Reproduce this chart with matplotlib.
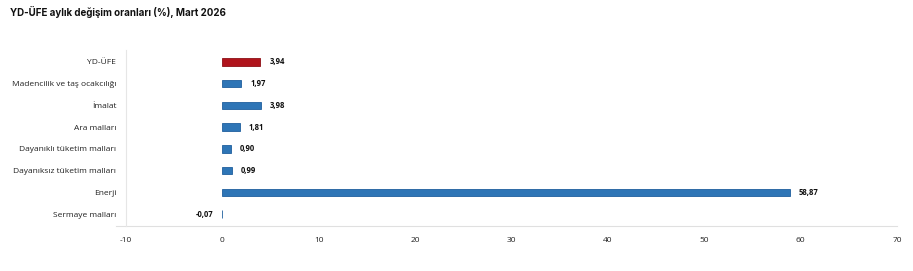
import matplotlib.pyplot as plt

plt.rcParams['font.family'] = ['Open Sans', 'DejaVu Sans']

categories = ["YD-ÜFE", "Madencilik ve taş ocakcılığı", "İmalat", "Ara malları",
              "Dayanıklı tüketim malları", "Dayanıksız tüketim malları",
              "Enerji", "Sermaye malları"]
values = [3.94, 1.97, 3.98, 1.81, 0.90, 0.99, 58.87, -0.07]
value_labels = ["3,94", "1,97", "3,98", "1,81", "0,90", "0,99", "58,87", "-0,07"]
xticks = [-10, 0, 10, 20, 30, 40, 50, 60, 70]

fig = plt.figure(figsize=(9.13, 2.71), dpi=100)
ax = fig.add_axes([126 / 913, 1 - 226 / 271, (897 - 126) / 913, 176 / 271])

colors = ["#B0141C"] + ["#2E75B6"] * (len(values) - 1)
edges = ["#8E1016"] + ["#1F5F9E"] * (len(values) - 1)
ypos = list(range(len(categories)))
ax.barh(ypos, values, height=0.34, color=colors, edgecolor=edges, linewidth=0.6)

for y, v, lab in zip(ypos, values, value_labels):
    if v >= 0:
        ax.annotate(lab, (v, y), xytext=(6.5, 0), textcoords="offset points",
                    ha="left", va="center", fontsize=5.5, fontweight="bold", color="#111111")
    else:
        ax.annotate(lab, (v, y), xytext=(-6, 0), textcoords="offset points",
                    ha="right", va="center", fontsize=5.5, fontweight="bold", color="#111111")

ax.set_xlim(-10, 70)
ax.set_ylim(7.55, -0.55)
ax.set_xticks(xticks)
ax.set_xticklabels([str(t) for t in xticks], fontsize=6, color="#222222")
ax.set_yticks(ypos)
ax.set_yticklabels(categories, fontsize=6, color="#222222")
ax.tick_params(axis="both", length=0)
ax.tick_params(axis="x", pad=8)
ax.tick_params(axis="y", pad=7)

for s in ["top", "right", "bottom"]:
    ax.spines[s].set_visible(False)
ax.spines["left"].set_color("#E6E6E6")
ax.spines["left"].set_linewidth(0.8)
# bottom axis line runs a little past the plot's left edge
ax.plot([-11.0, 70], [7.55, 7.55], color="#E0E0E0", lw=0.8, clip_on=False)

fig.text(10 / 913, 1 - 12 / 271, "YD-ÜFE aylık değişim oranları (%), Mart 2026",
         fontsize=7, fontweight="bold", color="#111111", va="center", ha="left",
         family=["Inter", "DejaVu Sans"])

fig.savefig("out.png", dpi=100, facecolor="white")
